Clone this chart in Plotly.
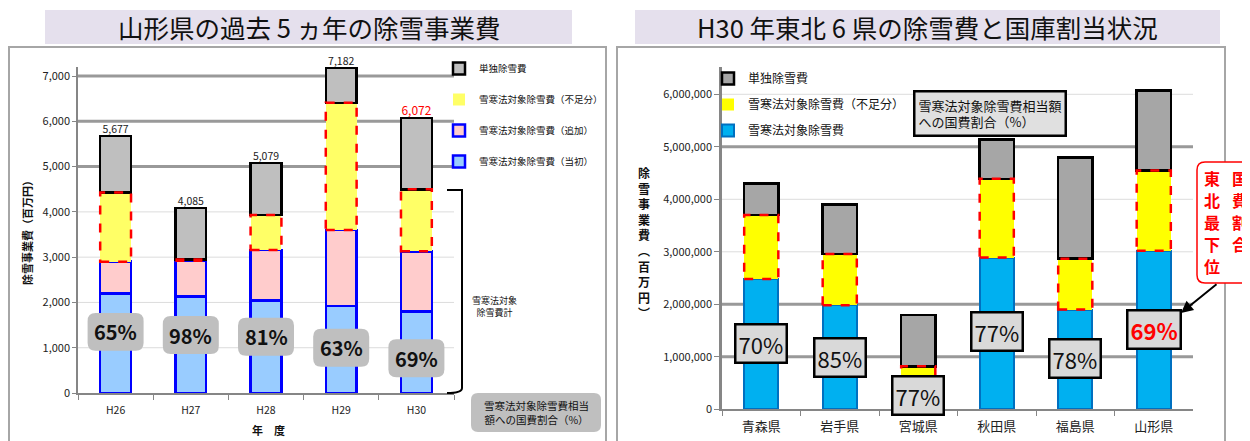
import plotly.graph_objects as go

W, H = 1250, 441
OFF = 8  # page body margin offset of the rendered html
FONT = "Noto Sans CJK JP, Noto Sans, sans-serif"

# ---------------- data: left chart (百万円) ----------------
years = ["H26", "H27", "H28", "H29", "H30"]
initial = [2200, 2130, 2040, 1920, 1800]        # 雪寒法対象除雪費（当初）
additional = [700, 790, 1120, 1680, 1330]       # 雪寒法対象除雪費（追加）
shortfall = [1530, 30, 770, 2810, 1370]         # 雪寒法対象除雪費（不足分）
single = [1247, 1135, 1149, 772, 1572]          # 単独除雪費
totals = [5677, 4085, 5079, 7182, 6072]
ratio_left = ["65%", "98%", "81%", "63%", "69%"]

# ---------------- data: right chart ----------------
prefs = ["青森県", "岩手県", "宮城県", "秋田県", "福島県", "山形県"]
target_r = [2480000, 1980000, 620000, 2890000, 1900000, 3020000]   # 雪寒法対象除雪費
shortfall_r = [1220000, 980000, 200000, 1500000, 970000, 1530000]  # 不足分
single_r = [600000, 940000, 980000, 750000, 1930000, 1520000]      # 単独除雪費
ratio_right = ["70%", "85%", "77%", "77%", "78%", "69%"]

# label placement (layout only)
label_y_left = [1350, 1280, 1240, 1000, 770]
label_y_right = [1260000, 990000, 270000, 1490000, 970000, 1520000]

# plot-area geometry (pixels in the screenshot)
L_X0, L_X1, L_Y0, L_Y1, L_MAX = 78, 454, 393, 67, 7200
R_X0, R_X1, R_Y0, R_Y1, R_MAX = 722, 1193, 409.3, 67, 6520000


def px(x):
    return (x - OFF) / W


def py(y):
    return 1 - (y - OFF) / H


def rpath(x0, y0, x1, y1, r):
    f = lambda x, y: f"{px(x):.5f},{py(y):.5f}"
    return (f"M{f(x0 + r, y0)} L{f(x1 - r, y0)} Q{f(x1, y0)} {f(x1, y0 + r)} "
            f"L{f(x1, y1 - r)} Q{f(x1, y1)} {f(x1 - r, y1)} L{f(x0 + r, y1)} "
            f"Q{f(x0, y1)} {f(x0, y1 - r)} L{f(x0, y0 + r)} Q{f(x0, y0)} {f(x0 + r, y0)} Z")


def note(text, x, y, size, color="#111", **kw):
    d = dict(text=text, xref="paper", yref="paper", x=px(x), y=py(y), showarrow=False,
             xanchor="center", yanchor="middle", font=dict(size=size, color=color))
    d.update(kw)
    return d


fig = go.Figure()

BW_L = 0.41
BW_R = 0.435

# ---- left bars (bottom -> top)
fig.add_bar(x=years, y=initial, name="雪寒法対象除雪費（当初）", width=BW_L,
            marker=dict(color="#99ccff", line=dict(color="#0000ff", width=2.5)),
            legendgroup="l1", legendrank=4, legend="legend", xaxis="x", yaxis="y")
fig.add_bar(x=years, y=additional, name="雪寒法対象除雪費（追加）", width=BW_L,
            marker=dict(color="#ffcccc", line=dict(color="#0000ff", width=2.5)),
            legendgroup="l2", legendrank=3, legend="legend", xaxis="x", yaxis="y")
fig.add_bar(x=years, y=shortfall, name="雪寒法対象除雪費（不足分）", width=BW_L,
            marker=dict(color="#ffff66", line=dict(color="#ff0000", width=0)),
            legendgroup="l3", legendrank=2, legend="legend", xaxis="x", yaxis="y")
fig.add_bar(x=years, y=single, name="単独除雪費", width=BW_L,
            marker=dict(color="#bfbfbf", line=dict(color="#000000", width=2.5)),
            legendgroup="l4", legendrank=1, legend="legend", xaxis="x", yaxis="y")
fig.add_scatter(x=years, y=totals, mode="text",
                text=[f"{v:,}" for v in totals], textposition="top center",
                textfont=dict(size=[10.5, 10.5, 10.5, 10.5, 12],
                              color=["#222", "#222", "#222", "#222", "#ff0000"]),
                showlegend=False, cliponaxis=False, hoverinfo="skip",
                xaxis="x", yaxis="y")

# ---- right bars
fig.add_bar(x=prefs, y=target_r, name="雪寒法対象除雪費", width=BW_R,
            marker=dict(color="#00b0f0", line=dict(color="#0070c0", width=2)),
            legendgroup="r1", legendrank=3, legend="legend2", xaxis="x2", yaxis="y2")
fig.add_bar(x=prefs, y=shortfall_r, name="雪寒法対象除雪費（不足分）", width=BW_R,
            marker=dict(color="#ffff00", line=dict(color="#ff0000", width=0)),
            legendgroup="r2", legendrank=2, legend="legend2", xaxis="x2", yaxis="y2")
fig.add_bar(x=prefs, y=single_r, name="単独除雪費", width=BW_R,
            marker=dict(color="#a6a6a6", line=dict(color="#000000", width=2.5)),
            legendgroup="r3", legendrank=1, legend="legend2", xaxis="x2", yaxis="y2")

shapes = []
annotations = []

# title boxes and frames
shapes.append(dict(type="rect", xref="paper", yref="paper", x0=px(45), x1=px(572), y0=py(44), y1=py(10),
                   fillcolor="#e5e0ed", line=dict(width=0), layer="below"))
shapes.append(dict(type="rect", xref="paper", yref="paper", x0=px(635), x1=px(1220), y0=py(44), y1=py(10),
                   fillcolor="#e5e0ed", line=dict(width=0), layer="below"))
shapes.append(dict(type="rect", xref="paper", yref="paper", x0=px(9), x1=px(606), y0=py(447), y1=py(47),
                   line=dict(color="#a6a6a6", width=2), layer="below"))
shapes.append(dict(type="rect", xref="paper", yref="paper", x0=px(617), x1=px(1225), y0=py(447), y1=py(47),
                   line=dict(color="#a6a6a6", width=2), layer="below"))

annotations.append(note("山形県の過去 5 ヵ年の除雪事業費", 309, 27, 25.5))
annotations.append(note("H30 年東北 6 県の除雪費と国庫割当状況", 927.5, 27, 25.5))

# gridlines (light / dark) drawn as shapes under the bars
for v in range(1000, 7001, 1000):
    dark = v >= 5000
    shapes.append(dict(type="line", xref="x domain", yref="y", x0=0, x1=1, y0=v, y1=v,
                       line=dict(color="#999999" if dark else "#dcdcdc", width=3 if dark else 1),
                       layer="below"))
for v in range(1000000, 6000001, 1000000):
    dark = v in (1000000, 2000000, 5000000)
    shapes.append(dict(type="line", xref="x2 domain", yref="y2", x0=0, x1=1, y0=v, y1=v,
                       line=dict(color="#999999" if dark else "#dcdcdc", width=3 if dark else 1),
                       layer="below"))

# dashed red outline on shortfall segments
for i in range(len(years)):
    b = initial[i] + additional[i]
    shapes.append(dict(type="rect", xref="x", yref="y", x0=i - BW_L / 2, x1=i + BW_L / 2,
                       y0=b, y1=b + shortfall[i], line=dict(color="#ff0000", width=2.5, dash="dash"),
                       layer="above"))
for i in range(len(prefs)):
    b = target_r[i]
    shapes.append(dict(type="rect", xref="x2", yref="y2", x0=i - BW_R / 2, x1=i + BW_R / 2,
                       y0=b, y1=b + shortfall_r[i], line=dict(color="#ff0000", width=2.5, dash="dash"),
                       layer="above"))

# left percentage labels (rounded grey boxes)
step_l = (L_X1 - L_X0) / len(years)
for i, t in enumerate(ratio_left):
    cx = L_X0 + (i + 0.5) * step_l
    cy = L_Y0 - label_y_left[i] * (L_Y0 - L_Y1) / L_MAX
    shapes.append(dict(type="path", xref="paper", yref="paper",
                       path=rpath(cx - 28, cy - 19, cx + 28, cy + 19, 8),
                       fillcolor="#bfbfbf", line=dict(width=0), layer="above"))
    annotations.append(dict(text=f"<b>{t}</b>", x=i, y=label_y_left[i], xref="x", yref="y",
                            showarrow=False, font=dict(size=20, color="#111")))

# right percentage labels
for i, t in enumerate(ratio_right):
    red = prefs[i] == "山形県"
    annotations.append(dict(text=f"<b>{t}</b>" if red else t, x=i, y=label_y_right[i],
                            xref="x2", yref="y2", showarrow=False,
                            font=dict(size=22, color="#ff0000" if red else "#111"),
                            bgcolor="#d9d9d9", bordercolor="#000", borderwidth=2.5, borderpad=2))

# bracket for 雪寒法対象除雪費計
shapes.append(dict(type="path", xref="paper", yref="paper",
                   path=(f"M{px(447):.5f},{py(190):.5f} L{px(462):.5f},{py(190):.5f} "
                         f"L{px(462):.5f},{py(388):.5f} Q{px(462):.5f},{py(393):.5f} {px(447):.5f},{py(393):.5f}"),
                   line=dict(color="#000", width=2)))
annotations.append(note("雪寒法対象<br>除雪費計", 494, 306, 9, align="center"))

# left note box
shapes.append(dict(type="path", xref="paper", yref="paper", path=rpath(471, 393, 601, 432, 7),
                   fillcolor="#bfbfbf", line=dict(width=0)))
annotations.append(note("雪寒法対象除雪費相当<br>額への国費割合（%）", 536, 412.5, 10.5, align="center"))

# axis titles
annotations.append(note("<b>除雪事業費（百万円）</b>", 27, 230, 11, textangle=-90))
annotations.append(note("<b>年　度</b>", 268, 430, 11))
annotations.append(note("<b>" + "<br>".join(list("除雪事業費︵百万円︶")) + "</b>", 644, 242, 12))

# right note box
annotations.append(note("雪寒法対象除雪費相当額<br>への国費割合（%）", 913, 114, 13, xanchor="left",
                        align="left", bgcolor="#e0e0e0", bordercolor="#000", borderwidth=2.5, borderpad=3))

# callout (vertical text, written one character per line)
shapes.append(dict(type="path", xref="paper", yref="paper", path=rpath(1197, 162, 1265, 283, 8),
                   fillcolor="#ffffff", line=dict(color="#ff0000", width=1.5)))
for col_x, word in ((1212, "東北最下位"), (1240, "国費割合")):
    for k, ch in enumerate(word):
        annotations.append(note(f"<b>{ch}</b>", col_x, 178 + 22 * k, 16, color="#ff0000", borderpad=0))
annotations.append(dict(text="", xref="paper", yref="paper", x=px(1181), y=py(313),
                        ax=37, ay=-30, axref="pixel", ayref="pixel",
                        showarrow=True, arrowhead=2, arrowsize=1.2, arrowwidth=2, arrowcolor="#000"))

fig.update_layout(
    width=W, height=H, margin=dict(l=0, r=0, t=0, b=0, autoexpand=False),
    paper_bgcolor="white", plot_bgcolor="white",
    font=dict(family=FONT, color="#111"),
    barmode="stack", bargap=0.5,
    xaxis=dict(domain=[px(L_X0), px(L_X1)], anchor="y", type="category", tickson="boundaries",
               ticklen=5, linewidth=1.5, showline=True, linecolor="#868686", ticks="outside",
               tickcolor="#868686", tickfont=dict(size=10.5, color="#222"), showgrid=False,
               ticklabelstandoff=7),
    yaxis=dict(domain=[py(L_Y0), py(L_Y1)], anchor="x", range=[0, L_MAX], tickvals=list(range(0, 7001, 1000)),
               tickformat=",", showgrid=False, ticklen=4, linewidth=1.5, zeroline=False,
               showline=True, linecolor="#868686", ticks="outside", tickcolor="#868686",
               tickfont=dict(size=11, color="#222")),
    xaxis2=dict(domain=[px(R_X0), px(R_X1)], anchor="y2", type="category", tickson="boundaries",
                ticklen=5, linewidth=1.5, showline=True, linecolor="#868686", ticks="outside",
                tickcolor="#868686", tickfont=dict(size=13, color="#222"), showgrid=False,
                ticklabelstandoff=4),
    yaxis2=dict(domain=[py(R_Y0), py(R_Y1)], anchor="x2", range=[0, R_MAX], dtick=1000000,
                tickformat=",", showgrid=False, ticklen=5, linewidth=2.5, zeroline=False,
                showline=True, linecolor="#868686", ticks="outside", tickcolor="#868686",
                tickfont=dict(size=11, color="#222")),
    legend=dict(x=px(439), y=py(54), xanchor="left", yanchor="top", traceorder="grouped",
                tracegroupgap=12, font=dict(size=9.5, color="#111"), bgcolor="rgba(0,0,0,0)"),
    legend2=dict(x=px(708), y=py(64), xanchor="left", yanchor="top", traceorder="grouped",
                 tracegroupgap=7, font=dict(size=12, color="#111"), bgcolor="rgba(0,0,0,0)"),
    shapes=shapes, annotations=annotations,
)

fig.write_html("out.html")
